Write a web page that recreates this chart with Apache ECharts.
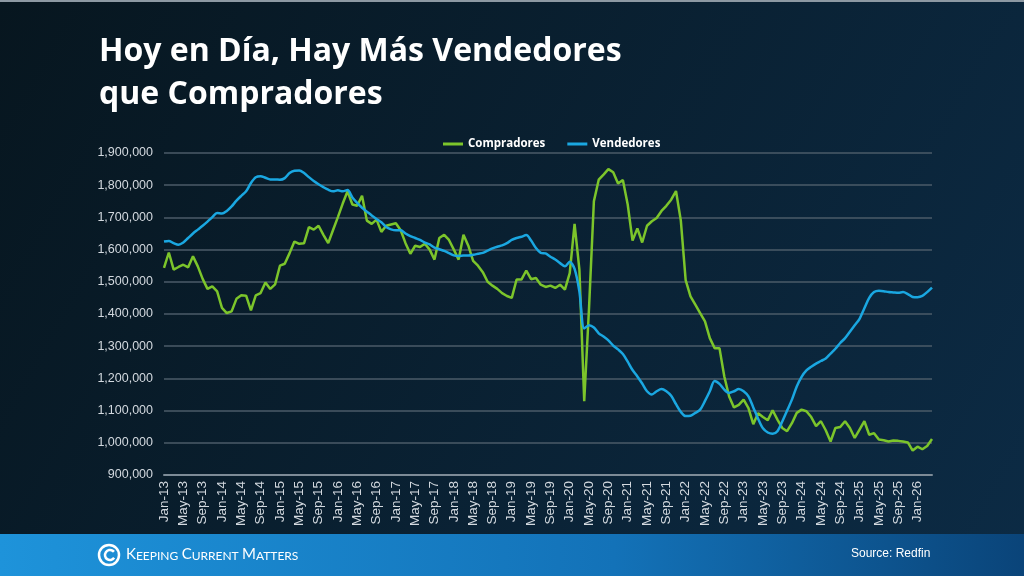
<!DOCTYPE html>
<html>
<head>
<meta charset="utf-8">
<script src="https://cdn.jsdelivr.net/npm/echarts@6/dist/echarts.min.js"></script>
<style>
  html,body{margin:0;padding:0;background:#0a1c2b;}
  #chart{width:1024px;height:576px;}
</style>
</head>
<body>
<div id="chart"></div>
<script>
  // meses Jan-13 .. Apr-26
  var monthNames = ['Jan','Feb','Mar','Apr','May','Jun','Jul','Aug','Sep','Oct','Nov','Dec'];
  var firstYear = 13, monthCount = 160;
  var months = [];
  for (var i = 0; i < monthCount; i++) {
    months.push(monthNames[i % 12] + '-' + (firstYear + Math.floor(i / 12)));
  }

  // valores en miles
  var compradores = [
    1543,1591,1538,1546,1553,1545,1579,1548,1509,1478,1486,1470,
    1419,1403,1408,1447,1458,1457,1411,1458,1465,1498,1478,1492,
    1550,1556,1589,1625,1618,1620,1670,1662,1674,1646,1620,1661,
    1701,1743,1781,1740,1736,1767,1690,1680,1693,1655,1674,1678,
    1682,1660,1620,1587,1612,1608,1618,1600,1569,1636,1646,1630,
    1600,1569,1646,1612,1565,1550,1530,1500,1488,1478,1465,1456,
    1450,1507,1507,1535,1508,1512,1491,1484,1488,1481,1491,1476,
    1527,1680,1538,1129,1420,1750,1817,1833,1850,1840,1805,1816,
    1740,1628,1666,1622,1674,1688,1698,1720,1736,1755,1782,1690,
    1505,1455,1429,1403,1377,1325,1294,1294,1206,1144,1110,1118,
    1134,1108,1058,1092,1080,1070,1101,1072,1046,1036,1061,1093,
    1103,1098,1080,1052,1067,1039,1004,1046,1049,1067,1046,1015,
    1041,1067,1025,1030,1010,1008,1004,1007,1006,1004,1001,976,
    988,980,990,1012
  ];
  var vendedores = [
    1625,1627,1620,1615,1622,1636,1650,1662,1674,1687,1701,1714,
    1712,1720,1734,1752,1767,1781,1807,1825,1828,1823,1818,1818,
    1817,1822,1838,1845,1846,1838,1825,1813,1803,1794,1786,1781,
    1784,1781,1785,1762,1745,1730,1718,1706,1695,1685,1670,1663,
    1660,1660,1650,1642,1636,1630,1622,1616,1606,1601,1596,1589,
    1582,1580,1582,1582,1584,1587,1590,1597,1604,1609,1613,1620,
    1630,1636,1640,1645,1628,1605,1590,1588,1578,1569,1558,1548,
    1562,1540,1470,1355,1365,1358,1340,1330,1318,1302,1290,1276,
    1252,1226,1206,1184,1160,1150,1160,1167,1160,1146,1120,1096,
    1083,1084,1093,1103,1130,1160,1192,1183,1165,1155,1160,1167,
    1160,1144,1110,1075,1045,1032,1028,1036,1066,1100,1134,1175,
    1205,1225,1236,1246,1254,1262,1277,1292,1310,1325,1345,1365,
    1385,1418,1450,1468,1472,1471,1468,1467,1466,1468,1462,1453,
    1452,1456,1468,1482
  ];

  var myChart = echarts.init(document.getElementById('chart'));
  myChart.setOption({
    animation: false,
    color: ['#7cc52b', '#1aa7e1'],
    graphic: [
      {
        type: 'rect', z: -10, silent: true,
        shape: {x: 0, y: 0, width: 1024, height: 576},
        style: {fill: new echarts.graphic.LinearGradient(0, 0, 1, 1, [
          {offset: 0, color: '#07161f'},
          {offset: 1, color: '#0c2b45'}
        ])}
      },
      {
        type: 'rect', z: -9, silent: true,
        shape: {x: 0, y: 0, width: 1024, height: 2},
        style: {fill: '#8d99a3'}
      },
      {
        type: 'rect', z: -9, silent: true,
        shape: {x: 0, y: 534, width: 1024, height: 42},
        style: {fill: new echarts.graphic.LinearGradient(0, 0, 1, 0, [
          {offset: 0, color: '#1e93da'},
          {offset: 0.6, color: '#1372b8'},
          {offset: 1, color: '#0a4479'}
        ])}
      },
      {
        type: 'text', left: 99, top: 30,
        style: {
          text: 'Hoy en Día, Hay Más Vendedores\nque Compradores',
          fill: '#ffffff',
          font: 'bold 32px "Open Sans", sans-serif',
          lineHeight: 43
        }
      },
      {
        type: 'circle', silent: true,
        shape: {cx: 109, cy: 555, r: 10},
        style: {fill: 'none', stroke: '#ffffff', lineWidth: 2.5}
      },
      {
        type: 'arc', silent: true,
        shape: {cx: 110, cy: 555, r: 5, startAngle: 0.6, endAngle: 5.6},
        style: {fill: 'none', stroke: '#ffffff', lineWidth: 2.5}
      },
      {
        type: 'text', left: 126, top: 547,
        style: {
          text: '{b|K}{s|EEPING} {b|C}{s|URRENT} {b|M}{s|ATTERS}',
          fill: '#ffffff',
          rich: {
            b: {fontSize: 15, fontFamily: 'Lato, sans-serif', fill: '#ffffff', verticalAlign: 'bottom'},
            s: {fontSize: 12, fontFamily: 'Lato, sans-serif', fill: '#ffffff', verticalAlign: 'bottom'}
          }
        }
      },
      {
        type: 'text', left: 851, top: 548,
        style: {
          text: 'Source: Redfin',
          fill: '#ffffff',
          font: '12px "Liberation Sans", Arial, sans-serif'
        }
      }
    ],
    legend: {
      top: 133,
      left: 438,
      itemWidth: 20,
      itemHeight: 3,
      itemGap: 22,
      icon: 'rect',
      textStyle: {
        color: '#ffffff',
        fontSize: 11.5,
        fontWeight: 'bold',
        fontFamily: '"Open Sans", sans-serif'
      },
      data: ['Compradores', 'Vendedores']
    },
    grid: {
      left: 164,
      right: 92,
      top: 153,
      bottom: 101,
      containLabel: false
    },
    xAxis: {
      type: 'category',
      boundaryGap: false,
      data: months,
      axisLine: {lineStyle: {color: '#7d8b97', width: 2}},
      axisTick: {show: false},
      axisLabel: {
        interval: 3,
        rotate: 90,
        margin: 6,
        color: '#d3d9df',
        fontSize: 13.5,
        fontFamily: '"Liberation Sans", Arial, sans-serif'
      }
    },
    yAxis: {
      type: 'value',
      min: 900000,
      max: 1900000,
      interval: 100000,
      axisLine: {show: false},
      axisTick: {show: false},
      splitLine: {lineStyle: {color: '#4b5b69', width: 1.5}},
      axisLabel: {
        margin: 11,
        color: '#d3d9df',
        fontSize: 12.5,
        fontFamily: '"Liberation Sans", Arial, sans-serif',
        formatter: function (v) { return v.toLocaleString('en-US'); }
      }
    },
    series: [
      {
        name: 'Compradores',
        type: 'line',
        symbol: 'none',
        lineStyle: {width: 2.5},
        data: compradores.map(function (v) { return v * 1000; })
      },
      {
        name: 'Vendedores',
        type: 'line',
        symbol: 'none',
        smooth: 0.3,
        lineStyle: {width: 2.5},
        data: vendedores.map(function (v) { return v * 1000; })
      }
    ]
  });
</script>
</body>
</html>
